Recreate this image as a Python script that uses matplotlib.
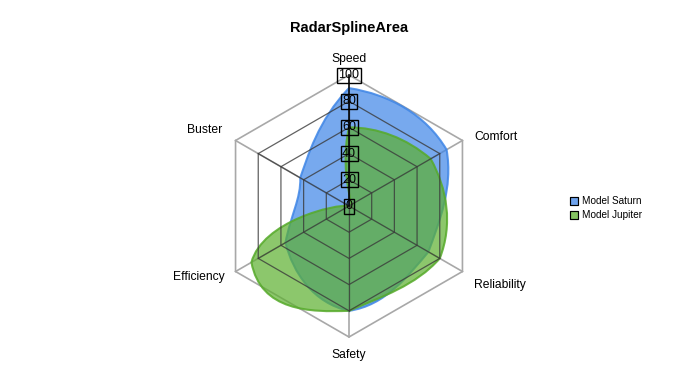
import numpy as np
import matplotlib
matplotlib.use("Agg")
import matplotlib.pyplot as plt
from matplotlib.patches import Polygon, Rectangle, PathPatch
from matplotlib.path import Path

plt.rcParams['font.family'] = ['Liberation Sans', 'DejaVu Sans']

categories = ["Speed", "Comfort", "Reliability", "Safety", "Efficiency", "Buster"]
saturn = [90, 86, 70, 80, 56, 43]
jupiter = [60, 72, 80, 80, 86, 0]
series_names = ["Model Saturn", "Model Jupiter"]
ticks = [0, 20, 40, 60, 80, 100]

colors = ["#3D85E8", "#5CB02E"]
edges = ["#3F86E6", "#56AA2A"]

W, H = 700, 375
cx, cy, scale = 349, 169, 1.31   # center in px from bottom, px per unit

fig = plt.figure(figsize=(7, 3.75), dpi=100)
ax = fig.add_axes([0, 0, 1, 1])
ax.set_xlim(-cx / scale, (W - cx) / scale)
ax.set_ylim(-cy / scale, (H - cy) / scale)
ax.set_aspect('equal')
ax.axis('off')

n = len(categories)
ang = np.pi / 2 - 2 * np.pi * np.arange(n) / n


def xy(vals):
    v = np.asarray(vals, float)
    return v * np.cos(ang), v * np.sin(ang)


def to_xy(s, r):
    th = np.pi / 2 - 2 * np.pi * s / n
    return (r * np.cos(th), r * np.sin(th))


def spline_path(vals):
    """Natural spline bezier controls in (index, value) space, mapped to the radar."""
    y = np.asarray(list(vals) + [vals[0]], float)
    m = len(y)
    A = np.zeros((m, m))
    b = np.zeros(m)
    A[0, 0] = A[-1, -1] = 1
    for i in range(1, m - 1):
        A[i, i - 1], A[i, i], A[i, i + 1] = 1, 4, 1
        b[i] = 6 * (y[i + 1] - 2 * y[i] + y[i - 1])
    M = np.linalg.solve(A, b)
    verts = [to_xy(0, y[0])]
    codes = [Path.MOVETO]
    for i in range(m - 1):
        c1 = (2 * y[i] + y[i + 1]) / 3 - (2 * M[i] + M[i + 1]) / 18
        c2 = (y[i] + 2 * y[i + 1]) / 3 - (M[i] + 2 * M[i + 1]) / 18
        verts += [to_xy(i + 1 / 3, c1), to_xy(i + 2 / 3, c2), to_xy(i + 1, y[i + 1])]
        codes += [Path.CURVE4] * 3
    verts.append(verts[0])
    codes.append(Path.CLOSEPOLY)
    return Path(verts, codes)


# grey outer grid
gx, gy = xy([100] * n)
ax.add_patch(Polygon(np.column_stack([gx, gy]), closed=True, fill=False,
                     ec="#A8A8A8", lw=1.2, zorder=1))
for i in range(n):
    ax.plot([0, gx[i]], [0, gy[i]], color="#A8A8A8", lw=1.2, zorder=1)

# series
for vals, col, ec in zip([saturn, jupiter], colors, edges):
    p = spline_path(vals)
    ax.add_patch(PathPatch(p, fc=col, alpha=0.7, ec='none', zorder=2))
    ax.add_patch(PathPatch(p, fill=False, ec=ec, lw=1.5, alpha=0.85, zorder=2))

# inner grid on top
for t in ticks[1:-1]:
    rx, ry = xy([t] * n)
    ax.add_patch(Polygon(np.column_stack([rx, ry]), closed=True, fill=False,
                         ec="#3A3A3A", lw=0.9, alpha=0.8, zorder=3))
r80x, r80y = xy([80] * n)
for i in range(n):
    ax.plot([0, r80x[i]], [0, r80y[i]], color="#3A3A3A", lw=0.9, alpha=0.8, zorder=3)

# vertical value axis
ax.plot([0, 0], [0, 100], color="black", lw=1.1, zorder=4)
for t in ticks:
    ax.text(0, t, str(t), ha='center', va='center', fontsize=9, zorder=5,
            bbox=dict(boxstyle='square,pad=0.12', fc='none', ec='black', lw=1.0))

# category labels
lab_off = {
    "Speed": (0, 12.5, 'center', 'center'),
    "Comfort": (9, 2.5, 'left', 'center'),
    "Reliability": (9, -10, 'left', 'center'),
    "Safety": (0, -13.5, 'center', 'center'),
    "Efficiency": (-8.5, -4.5, 'right', 'center'),
    "Buster": (-10, 8, 'right', 'center'),
}
for i, c in enumerate(categories):
    dx, dy, ha, va = lab_off[c]
    ax.text(gx[i] + dx, gy[i] + dy, c, ha=ha, va=va, fontsize=8.7, zorder=5)

# title
fig.text(349 / W, 1 - 28 / H, "RadarSplineArea", ha='center', va='center',
         fontsize=10.5, fontweight='bold')

# legend
for k, (name, col) in enumerate(zip(series_names, colors)):
    yk = 1 - (201 + 14 * k) / H
    fig.patches.append(Rectangle((570 / W, yk - 4 / H), 8 / W, 8 / H,
                                 transform=fig.transFigure, fc=col, alpha=0.75,
                                 ec='black', lw=0.8))
    fig.patches.append(Rectangle((570 / W, yk - 4 / H), 8 / W, 8 / H,
                                 transform=fig.transFigure, fill=False,
                                 ec='black', lw=0.8))
    fig.text(582 / W, yk, name, ha='left', va='center', fontsize=7.2)

fig.savefig("out.png", dpi=100)
